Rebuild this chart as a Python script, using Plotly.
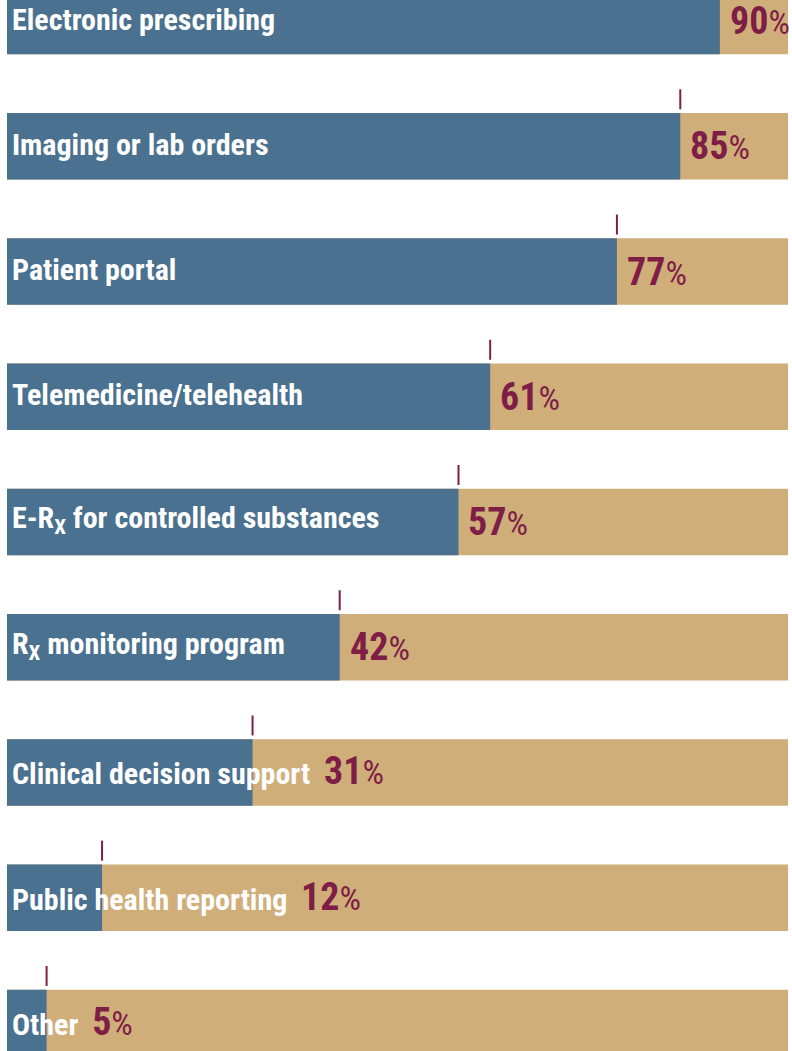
import plotly.graph_objects as go

# ---- data ----
categories = [
    "Electronic prescribing",
    "Imaging or lab orders",
    "Patient portal",
    "Telemedicine/telehealth",
    "E-R<sub>X</sub> for controlled substances",
    "R<sub>X</sub> monitoring program",
    "Clinical decision support",
    "Public health reporting",
    "Other",
]
values = [90, 85, 77, 61, 57, 42, 31, 12, 5]
plain_len = [22, 21, 14, 23, 32, 21, 25, 23, 5]  # visible character counts of labels

# ---- style ----
BLUE = "#4B7190"
TAN = "#D0AE7A"
EDGE = "#E0BE90"
RED = "#7E1E47"
FONT = "Roboto Condensed, DejaVu Sans Condensed, Roboto, sans-serif"
LABEL_SIZE = 30
W, H = 792, 1051
ML, MR = 7, 4
X_MAX = 98.6
n = len(categories)
px_per_unit = (W - ML - MR) / X_MAX

fig = go.Figure()
# background (tan) bars spanning the full axis
fig.add_trace(go.Bar(
    y=categories, x=[X_MAX] * n, orientation="h",
    marker=dict(color=TAN, line_width=0), width=0.53,
    hoverinfo="skip", showlegend=False,
))
# value bars
fig.add_trace(go.Bar(
    y=categories, x=values, orientation="h",
    marker=dict(color=BLUE, line_width=0), width=0.53,
    showlegend=False,
))

def pct_html(v):
    return (f"<span style='color:{RED};font-size:38px'><b>{v}</b></span>"
            f"<span style='color:{RED};font-size:34px'>%</span>")

annotations = []
shapes = []
for i, (cat, v, ln) in enumerate(zip(categories, values, plain_len)):
    label_px = ln * 0.40 * LABEL_SIZE
    bar_px = v * px_per_unit
    if label_px + 8 > bar_px:
        annotations.append(dict(
            x=0, y=cat, xref="x", yref="y", xanchor="left", yanchor="middle",
            xshift=3, yshift=1, showarrow=False,
            text=f"<b>{cat}</b>&nbsp;&nbsp;" + pct_html(v),
            font=dict(family=FONT, size=LABEL_SIZE, color="white"),
        ))
    else:
        annotations.append(dict(
            x=0, y=cat, xref="x", yref="y", xanchor="left", yanchor="middle",
            xshift=3, yshift=2, showarrow=False,
            text=f"<b>{cat}</b>",
            font=dict(family=FONT, size=LABEL_SIZE, color="white"),
        ))
        annotations.append(dict(
            x=v, y=cat, xref="x", yref="y", xanchor="left", yanchor="middle",
            xshift=8, yshift=0, showarrow=False,
            text=pct_html(v),
            font=dict(family=FONT, size=LABEL_SIZE, color=RED),
        ))
    # small marker tick above the bar end
    shapes.append(dict(
        type="line", xref="x", yref="y", x0=v, x1=v,
        ysizemode="pixel", yanchor=i, y0=37, y1=57,
        line=dict(color=RED, width=2),
    ))

# left edge rule
shapes.append(dict(
    type="line", xref="x", yref="paper", xsizemode="pixel", xanchor=0,
    x0=-2, x1=-2, y0=0, y1=1, line=dict(color=EDGE, width=3),
))

fig.update_layout(
    width=W, height=H,
    margin=dict(l=ML, r=MR, t=0, b=0, pad=0),
    barmode="overlay",
    plot_bgcolor="white", paper_bgcolor="white",
    xaxis=dict(range=[0, X_MAX], visible=False, fixedrange=True),
    yaxis=dict(type="category", categoryorder="array", categoryarray=categories,
               range=[n - 1 + 0.224, -0.168], visible=False, fixedrange=True),
    annotations=annotations,
    shapes=shapes,
)

fig.write_html("out.html")
